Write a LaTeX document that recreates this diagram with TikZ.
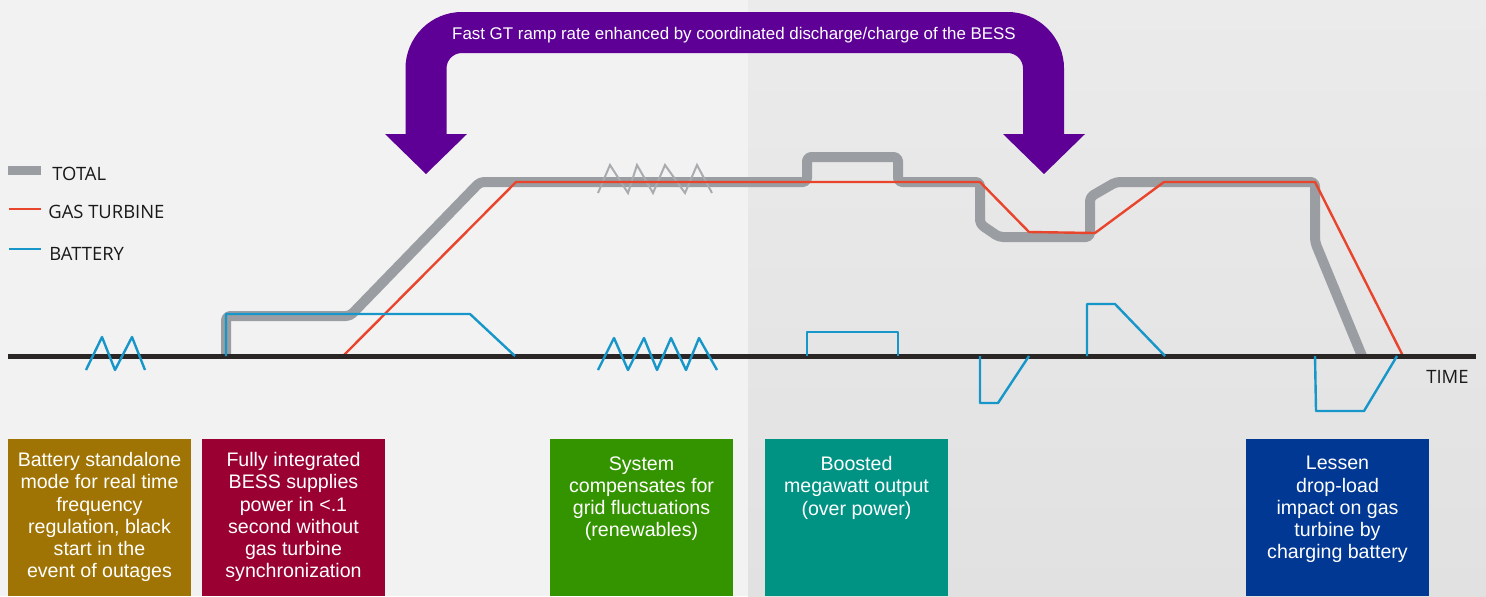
\documentclass[tikz,border=0pt]{standalone}
\usepackage{fontspec}
\setmainfont{Liberation Sans}
\newfontfamily\legendfont{Open Sans}
\usepackage{xcolor}
\definecolor{bg left}{HTML}{F2F2F2}
\definecolor{bg right top}{HTML}{EBEBEB}
\definecolor{bg right bottom}{HTML}{E1E1E1}
\definecolor{total gray}{HTML}{9A9DA1}
\definecolor{turbine red}{HTML}{E9452D}
\definecolor{battery blue}{HTML}{1796C9}
\definecolor{axis black}{HTML}{2A2626}
\definecolor{bess purple}{HTML}{5E0096}
\colorlet{legend text}{black!90}
\definecolor{gold panel}{HTML}{A07404}
\definecolor{crimson panel}{HTML}{9A0032}
\definecolor{green panel}{HTML}{349400}
\definecolor{teal panel}{HTML}{009384}
\definecolor{navy panel}{HTML}{003893}
\tikzset{total/.style={draw=total gray, line width=5pt, line join=round, rounded corners=2pt},
    wobble/.style={draw=total gray!85, line width=1pt},
    turbine/.style={draw=turbine red, line width=1.2pt, line join=round},
    battery/.style={draw=battery blue, line width=1.2pt, line join=round},
    timeaxis/.style={draw=axis black, line width=2.5pt},
    band/.style={draw=bess purple, line width=20.5pt, rounded corners=18pt},
    legend/.style={anchor=base west, inner sep=0pt, text=legend text, font=\legendfont\fontsize{9.2}{11}\selectfont},
    infobox/.style={anchor=north, inner sep=0pt, align=center, text=white, font=\fontsize{9.8}{11.1}\selectfont}}

\begin{document}
\begin{tikzpicture}[x=0.5pt, y=-0.5pt]
    \useasboundingbox (0,0) rectangle (1486,596);
    % backdrop
    \fill[bg left] (0,0) rectangle (748,596);
    \shade[top color=bg right top, bottom color=bg right bottom] (748,0) rectangle (1486,596);
    % purple arrow
    \draw[band] (426,134) -- (426,32.5) -- (1043.5,32.5) -- (1043.5,134);
    \fill[bess purple] (385,134) -- (467,134) -- (426,174) -- cycle;
    \fill[bess purple] (1003,134) -- (1085,134) -- (1044,174) -- cycle;
    \node[anchor=base, text=white, font=\fontsize{8.45}{9}\selectfont] (ramp label) at (734,39)
      {Fast GT ramp rate enhanced by coordinated discharge/charge of the BESS};
    % legend
    \fill[total gray] (8,166) rectangle (41,175);
    \draw[turbine] (9,209) -- (41,209);
    \draw[battery] (9,249) -- (41,249);
    \node[legend] (total label) at (52,180) {TOTAL};
    \node[legend] (turbine label) at (48,218) {GAS TURBINE};
    \node[legend] (battery label) at (49,260) {BATTERY};
    % traces
    \draw[total] (226,356) -- (226,316) -- (350,316) -- (480,182) -- (807,182) -- (807,157)
      -- (898,157) -- (898,182) -- (980,182) -- (980,224) -- (999,237) -- (1090,237)
      -- (1090,197) -- (1116,182) -- (1315,182) -- (1315,242) -- (1362,356);
    \draw[wobble] (598,193) -- (610,165) -- (628,193) -- (637,165) -- (653,193) -- (665,165)
      -- (685,193) -- (697,165) -- (712,193);
    \draw[turbine] (343,356) -- (516,182) -- (980,182) -- (1029,232) -- (1095,233)
      -- (1164,182) -- (1315,182) -- (1403,356);
    \draw[timeaxis] (8,356) -- (1476,356);
    \node[legend] (time label) at (1426,383) {TIME};
    \draw[battery] (86,370) -- (102,337) -- (115,370) -- (132,337) -- (145,370);
    \draw[battery] (226,356) -- (226,314) -- (470,314) -- (515,356);
    \draw[battery] (598,370) -- (614,338) -- (628,370) -- (644,338) -- (657,370) -- (671,338)
      -- (686,370) -- (699,338) -- (717,370);
    \draw[battery] (807,356) -- (807,332) -- (898,332) -- (898,356);
    \draw[battery] (980,356) -- (980,403) -- (998,403) -- (1029,356);
    \draw[battery] (1087,356) -- (1087,304) -- (1115,304) -- (1165,356);
    \draw[battery] (1315,356) -- (1316,411) -- (1364,411) -- (1397,356);
    % panels
    \fill[gold panel] (8,439) rectangle (191,596);
    \fill[crimson panel] (202,439) rectangle (385,596);
    \fill[green panel] (550,439) rectangle (733,596);
    \fill[teal panel] (765,439) rectangle (948,596);
    \fill[navy panel] (1246,439) rectangle (1429,596);
    \node[infobox] (standalone text) at (99.5,452)
      {Battery standalone\\mode for real time\\frequency\\regulation, black\\start in the\\event of outages};
    \node[infobox] (integrated text) at (293.5,452)
      {Fully integrated\\BESS supplies\\power in <.1\\second without\\gas turbine\\synchronization};
    \node[infobox] (grid text) at (641.5,456)
      {System\\compensates for\\grid fluctuations\\(renewables)};
    \node[infobox] (boost text) at (856.5,456)
      {Boosted\\megawatt output\\(over power)};
    \node[infobox] (drop text) at (1337.5,456)
      {Lessen\\drop-load\\impact on gas\\turbine by\\charging battery};
\end{tikzpicture}
\end{document}
